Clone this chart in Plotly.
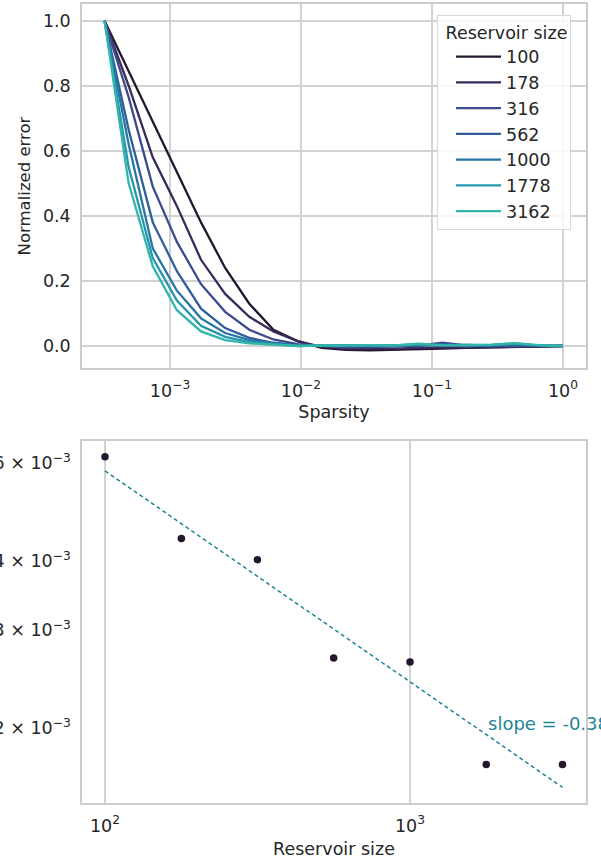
import numpy as np
import plotly.graph_objects as go

# ---------------- data ----------------
sparsity = [3.162e-4, 4.833e-4, 7.385e-4, 1.129e-3, 1.725e-3, 2.637e-3, 4.030e-3,
            6.158e-3, 9.412e-3, 1.438e-2, 2.198e-2, 3.360e-2, 5.135e-2, 7.848e-2,
            0.1199, 0.1833, 0.2801, 0.4281, 0.6543, 1.0]

reservoir_sizes = [100, 178, 316, 562, 1000, 1778, 3162]

err_100 = [1.0, 0.845, 0.69, 0.535, 0.38, 0.24, 0.13, 0.05, 0.015, -0.006,
           -0.012, -0.013, -0.012, -0.010, -0.008, -0.006, -0.005, -0.004, -0.002, 0.0]
err_178 = [1.0, 0.80, 0.58, 0.43, 0.265, 0.16, 0.09, 0.045, 0.015, -0.003,
           -0.008, -0.009, -0.008, -0.006, -0.004, -0.005, -0.003, -0.002, -0.002, 0.0]
err_316 = [1.0, 0.765, 0.49, 0.32, 0.19, 0.105, 0.05, 0.02, 0.006, 0.0,
           -0.004, -0.003, -0.002, 0.001, 0.010, 0.002, 0.001, -0.001, 0.002, 0.0]
err_562 = [1.0, 0.665, 0.38, 0.23, 0.115, 0.055, 0.025, 0.01, 0.003, 0.001,
           -0.001, 0.0, 0.002, 0.0, 0.006, 0.001, 0.0, 0.002, 0.001, 0.0]
err_1000 = [1.0, 0.62, 0.30, 0.17, 0.085, 0.04, 0.018, 0.008, 0.002, 0.002,
            0.001, 0.002, 0.0, 0.004, 0.003, 0.0, 0.002, 0.005, 0.001, 0.0]
err_1778 = [1.0, 0.55, 0.27, 0.14, 0.062, 0.028, 0.012, 0.005, 0.0, 0.001,
            0.003, 0.002, 0.001, 0.006, 0.002, 0.004, 0.003, 0.008, 0.002, 0.0]
err_3162 = [1.0, 0.50, 0.245, 0.11, 0.045, 0.018, 0.008, 0.003, 0.0, 0.002,
            0.001, 0.003, 0.002, 0.007, 0.003, 0.002, 0.004, 0.009, 0.003, 0.0]

errors = [err_100, err_178, err_316, err_562, err_1000, err_1778, err_3162]

optimal_sparsity = [6.16e-3, 4.39e-3, 4.02e-3, 2.675e-3, 2.63e-3, 1.72e-3, 1.72e-3]

palette = ["#24162C", "#382B5C", "#3E4A8E", "#2F5E9A", "#2675A3", "#2597AC", "#33B5AA"]
dot_color = "#24162C"
fit_color = "#1F8496"

top_xticks = [1e-3, 1e-2, 1e-1, 1e0]
top_xticktext = ["10<sup>\u22123</sup>", "10<sup>\u22122</sup>", "10<sup>\u22121</sup>", "10<sup>0</sup>"]
top_yticks = [0.0, 0.2, 0.4, 0.6, 0.8, 1.0]
bot_xticks = [100, 1000]
bot_xticktext = ["10<sup>2</sup>", "10<sup>3</sup>"]
bot_yticks = [2e-3, 3e-3, 4e-3, 6e-3]
bot_yticktext = ["2 \u00d7 10<sup>\u22123</sup>", "3 \u00d7 10<sup>\u22123</sup>",
                 "4 \u00d7 10<sup>\u22123</sup>", "6 \u00d7 10<sup>\u22123</sup>"]

# ---------------- figure ----------------
W, H = 601, 863
FONT = "DejaVu Sans"
TXT = "#262626"
GRID = "#d2d2d2"
EDGE = "#cccccc"

fig = go.Figure()

for size, err, col in zip(reservoir_sizes, errors, palette):
    fig.add_trace(go.Scatter(
        x=sparsity, y=err, mode="lines", name=str(size),
        line=dict(color=col, width=2.3), legendgroup=str(size),
        xaxis="x", yaxis="y"))

# bottom: optimal sparsity vs reservoir size, with power-law fit
logN = np.log10(reservoir_sizes)
logS = np.log10(optimal_sparsity)
slope, intercept = np.polyfit(logN, logS, 1)
fit_y = 10 ** (intercept + slope * logN)

fig.add_trace(go.Scatter(
    x=reservoir_sizes, y=optimal_sparsity, mode="markers",
    marker=dict(color=dot_color, size=7.5), showlegend=False,
    xaxis="x2", yaxis="y2"))
fig.add_trace(go.Scatter(
    x=reservoir_sizes, y=fit_y, mode="lines",
    line=dict(color=fit_color, width=1.5, dash="4px,3px"), showlegend=False,
    xaxis="x2", yaxis="y2"))

xdom = [82 / W, 586 / W]
axis_common = dict(showline=True, mirror=True, linecolor=EDGE, linewidth=1.5,
                   gridcolor=GRID, gridwidth=1.5, zeroline=False, automargin=False,
                   tickfont=dict(family=FONT, size=17.5, color=TXT),
                   ticks="outside", ticklen=6, tickcolor="rgba(0,0,0,0)")

fig.update_layout(
    width=W, height=H,
    margin=dict(l=0, r=0, t=0, b=0, autoexpand=False),
    paper_bgcolor="white", plot_bgcolor="white",
    font=dict(family=FONT, size=17, color=TXT),
    xaxis=dict(domain=xdom, anchor="y", type="log",
               range=[-3.672, 0.176], tickvals=top_xticks, ticktext=top_xticktext,
               title=dict(text="Sparsity", font=dict(size=17.5), standoff=6),
               **axis_common),
    yaxis=dict(domain=[1 - 368 / H, 1 - 4 / H], anchor="x",
               range=[-0.0676, 1.0513], tickvals=top_yticks, tickformat=".1f",
               title=dict(text="Normalized error", font=dict(size=16.5), standoff=8),
               **axis_common),
    xaxis2=dict(domain=xdom, anchor="y2", type="log",
                range=[1.9246, 3.577], tickvals=bot_xticks, ticktext=bot_xticktext,
                title=dict(text="Reservoir size", font=dict(size=17.5), standoff=8),
                **axis_common),
    yaxis2=dict(domain=[1 - 803 / H, 1 - 441 / H], anchor="x2", type="log",
                range=[-2.834, -2.182], tickvals=bot_yticks, ticktext=bot_yticktext,
                showgrid=False, **axis_common),
    legend=dict(x=437 / W, y=1 - 15 / H, xanchor="left", yanchor="top",
                bgcolor="rgba(255,255,255,0.85)", bordercolor="#d8d8d8", borderwidth=1,
                font=dict(family=FONT, size=17.5, color=TXT),
                title=dict(text=" Reservoir size", font=dict(size=17.5)),
                tracegroupgap=3, traceorder="normal", itemwidth=45, indentation=13),
    showlegend=True,
    annotations=[dict(
        x=np.log10(reservoir_sizes[-2]), y=np.log10(2.04e-3), xref="x2", yref="y2",
        text=f"slope = {slope:.2f}", showarrow=False, xanchor="left", yanchor="middle",
        font=dict(family=FONT, size=18, color=fit_color))],
)

fig.write_html("out.html", config={"displayModeBar": False},
               post_script="document.body.style.margin='0';")
